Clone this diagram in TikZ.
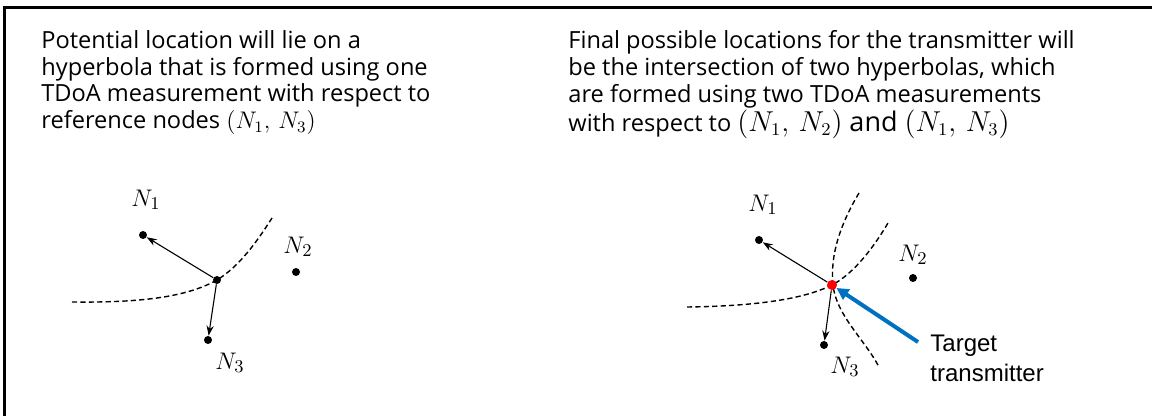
\documentclass[tikz,border=0pt]{standalone}
\usepackage{fontspec}
\usepackage{xcolor}
\usepackage{tikz}
\usetikzlibrary{arrows.meta,positioning,calc}
\setmainfont{Open Sans}
\newfontfamily\arialfont{Liberation Sans}
\definecolor{pointerblue}{RGB}{0,112,192}
\definecolor{targetred}{RGB}{255,0,0}

\begin{document}
\begin{tikzpicture}[
  x=0.5pt,y=-0.5pt,
  txt/.style={anchor=north west,inner sep=0pt,align=left,font=\fontsize{11.8}{13.4}\selectfont},
  lbl/.style={inner sep=0pt,font=\fontsize{12.5}{13}\selectfont},
  pt/.style={circle,fill=black,inner sep=0pt,minimum size=4pt},
  hyp/.style={dashed,dash pattern=on 2.6pt off 1.6pt,line width=0.7pt},
  arr/.style={-{Stealth[length=5pt,width=3.6pt]},line width=0.55pt}
]
\useasboundingbox (0,0) rectangle (1152,416);
% frame (top and left edges only)
\draw[line width=1.3pt] (4.5,416) -- (4.5,7.5) -- (1152,7.5);

% captions
\node[txt] (capL) at (41,30) {Potential location will lie on a\\
  hyperbola that is formed using one\\
  TDoA measurement with respect to\\
  reference nodes $(N_1,\,N_3)$};
\node[txt] (capR) at (568,30) {Final possible locations for the transmitter will\\
  be the intersection of two hyperbolas, which\\
  are formed using two TDoA measurements\\
  with respect to {\fontsize{13.5}{14}\selectfont $(N_1,\,N_2)$ and $(N_1,\,N_3)$}};

% left: one hyperbola
\node[pt] (a1) at (143,235) {};
\node[pt] (a2) at (296,272) {};
\node[pt] (a3) at (208,340) {};
\node[pt] (ax) at (217,280) {};
\node[lbl] at (146,200) {$N_1$};
\node[lbl] at (298,247) {$N_2$};
\node[lbl] at (230,363) {$N_3$};
\draw[hyp] (72,302) .. controls (150,303) and (190,295) .. (ax.center)
  .. controls (240,266) and (258,240) .. (272,218);
\draw[arr] (ax) -- (a1);
\draw[arr] (ax) -- (a3);

% right: two hyperbolas
\node[pt] (b1) at (759,240) {};
\node[pt] (b2) at (913,278) {};
\node[pt] (b3) at (824,345) {};
\node[lbl] at (763,205) {$N_1$};
\node[lbl] at (913,255) {$N_2$};
\node[lbl] at (845,367) {$N_3$};
\draw[hyp] (687,307) .. controls (770,306) and (810,296) .. (832,285)
  .. controls (855,273) and (875,245) .. (888,223);
\draw[hyp] (859,193) .. controls (840,225) and (830,255) .. (833,285)
  .. controls (836,315) and (865,340) .. (879,367);
\node[pt,fill=targetred,minimum size=5pt] (bx) at (832,285) {};
\draw[arr] (bx) -- (b1);
\draw[arr] (bx) -- (b3);
\node[anchor=north west,inner sep=0pt,align=left,font=\arialfont\fontsize{12}{15}\selectfont] (tgt) at (930,335) {Target\\transmitter};
\coordinate (tail) at (918,342);
\draw[pointerblue,line width=2pt,-{Triangle[length=6pt,width=6pt]}] (tail) -- (bx);
\end{tikzpicture}
\end{document}
